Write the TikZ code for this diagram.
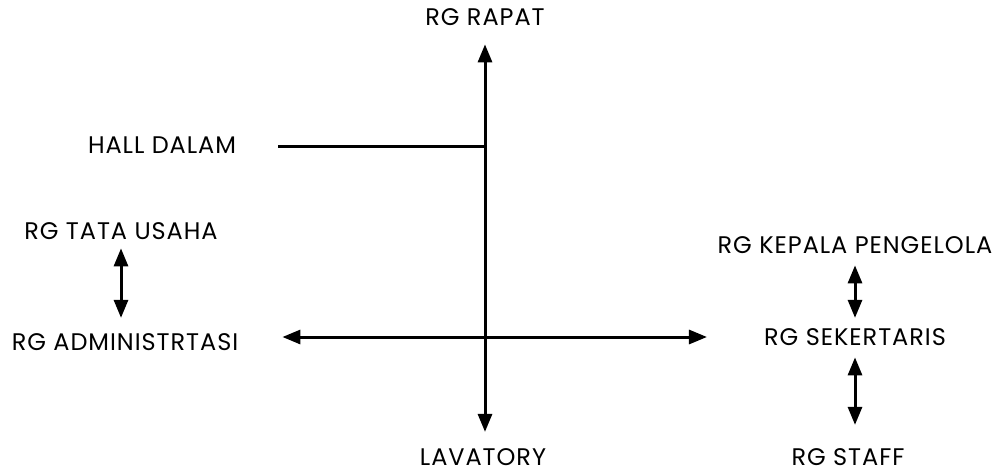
\documentclass[tikz,border=0pt]{standalone}
\usepackage{fontspec}
\setmainfont{Poppins}[LetterSpace=4]
\usetikzlibrary{arrows.meta}

\tikzstyle{room} = [font=\fontsize{24}{28}\selectfont, inner sep=0pt, anchor=base]
\tikzstyle{line} = [line width=3pt]
\tikzstyle{arrow} = [line width=3pt,{Triangle[length=18pt,width=14pt]}-{Triangle[length=18pt,width=14pt]}]

\begin{document}
\begin{tikzpicture}[x=1pt,y=-1pt]
\useasboundingbox (0,0) rectangle (1008,473);

\node (rapat) [room] at (485,26) {RG RAPAT};
\node (hall) [room] at (162,154) {HALL DALAM};
\node (tata) [room] at (121,239) {RG TATA USAHA};
\node (admin) [room] at (125,350) {RG ADMINISTRTASI};
\node (kepala) [room] at (855,253) {RG KEPALA PENGELOLA};
\node (sek) [room] at (855,345) {RG SEKERTARIS};
\node (staff) [room] at (848,465) {RG STAFF};
\node (lav) [room] at (483,465) {LAVATORY};

\coordinate (cross) at (485,337);
\coordinate (hallend) at (485,147);

\draw [arrow, shorten <=18pt, shorten >=16pt] (rapat.south) -- (rapat.south |- lav.north);
\draw [line, shorten <=42pt] (hall.east |- hallend) -- (hallend);
\draw [arrow, shorten <=44pt, shorten >=57pt] (admin.east |- cross) -- (sek.west |- cross);

\draw [arrow, shorten <=9pt, shorten >=15pt] (tata.south) -- (tata.south |- admin.north);
\draw [arrow, shorten <=12pt, shorten >=10pt] (kepala.south -| sek) -- (sek.north);
\draw [arrow, shorten <=12pt, shorten >=23pt] (sek.south) -- (sek.south |- staff.north);

\end{tikzpicture}
\end{document}
